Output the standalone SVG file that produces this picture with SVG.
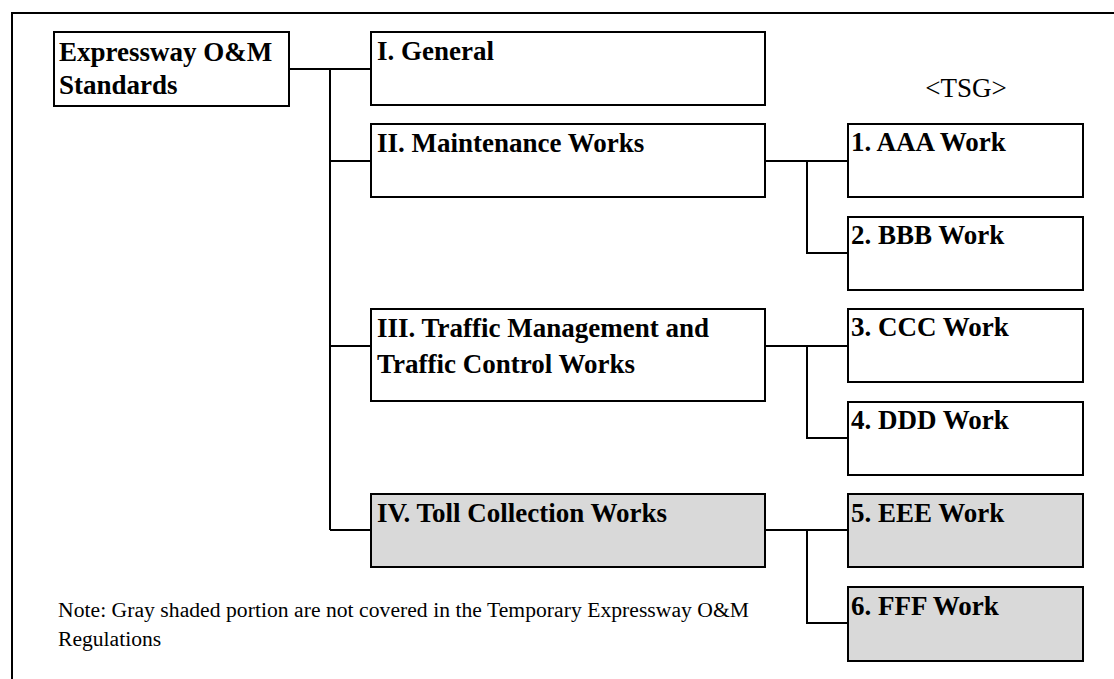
<svg xmlns="http://www.w3.org/2000/svg" width="1114" height="679" viewBox="0 0 1114 679">
<style>
.box{fill:#ffffff;stroke:#000;stroke-width:2}
.gray{fill:#d9d9d9;stroke:#000;stroke-width:2}
.lbl{font-family:"Liberation Serif","Times New Roman",serif;font-weight:bold;font-size:27px;fill:#000}
.reg{font-family:"Liberation Serif","Times New Roman",serif;font-size:21.6px;fill:#000}
.big{font-family:"Liberation Serif","Times New Roman",serif;font-size:27px;fill:#000}
.ln{fill:none;stroke:#000;stroke-width:2}
</style>
<rect x="0" y="0" width="1114" height="679" fill="#fff"/>
<path class="ln" d="M12,679 V13 H1114"/>
<g id="connectors">
<path class="ln" d="M289,69 H371"/>
<path class="ln" d="M330,69 V530"/>
<path class="ln" d="M330,161 H371"/>
<path class="ln" d="M330,346 H371"/>
<path class="ln" d="M330,530 H371"/>
<path class="ln" d="M765,161 H848 M807,161 V253 H848"/>
<path class="ln" d="M765,346 H848 M807,346 V438 H848"/>
<path class="ln" d="M765,530 H848 M807,530 V623 H848"/>
</g>
<g id="root"><rect class="box" x="54" y="32" width="235" height="74"/>
<text class="lbl" x="59" y="61">Expressway O&amp;M</text>
<text class="lbl" x="59" y="94">Standards</text></g>
<g id="n1"><rect class="box" x="371" y="32" width="394" height="73"/>
<text class="lbl" x="377" y="60">I. General</text></g>
<g id="n2"><rect class="box" x="371" y="124" width="394" height="73"/>
<text class="lbl" x="377" y="152">II. Maintenance Works</text></g>
<g id="n3"><rect class="box" x="371" y="309" width="394" height="92"/>
<text class="lbl" x="377" y="337">III. Traffic Management and</text>
<text class="lbl" x="377" y="373">Traffic Control Works</text></g>
<g id="n4"><rect class="gray" x="371" y="494" width="394" height="73"/>
<text class="lbl" x="377" y="522">IV. Toll Collection Works</text></g>
<g id="tsg"><text class="big" x="966" y="97" text-anchor="middle">&lt;TSG&gt;</text></g>
<g id="w1"><rect class="box" x="848" y="124" width="235" height="73"/>
<text class="lbl" x="851" y="151">1. AAA Work</text></g>
<g id="w2"><rect class="box" x="848" y="217" width="235" height="73"/>
<text class="lbl" x="851" y="244">2. BBB Work</text></g>
<g id="w3"><rect class="box" x="848" y="309" width="235" height="73"/>
<text class="lbl" x="851" y="336">3. CCC Work</text></g>
<g id="w4"><rect class="box" x="848" y="402" width="235" height="73"/>
<text class="lbl" x="851" y="429">4. DDD Work</text></g>
<g id="w5"><rect class="gray" x="848" y="494" width="235" height="73"/>
<text class="lbl" x="851" y="522">5. EEE Work</text></g>
<g id="w6"><rect class="gray" x="848" y="587" width="235" height="74"/>
<text class="lbl" x="851" y="615">6. FFF Work</text></g>
<g id="note">
<text class="reg" x="58" y="617" textLength="691" lengthAdjust="spacing">Note: Gray shaded portion are not covered in the Temporary Expressway O&amp;M</text>
<text class="reg" x="58" y="646">Regulations</text></g>
</svg>
